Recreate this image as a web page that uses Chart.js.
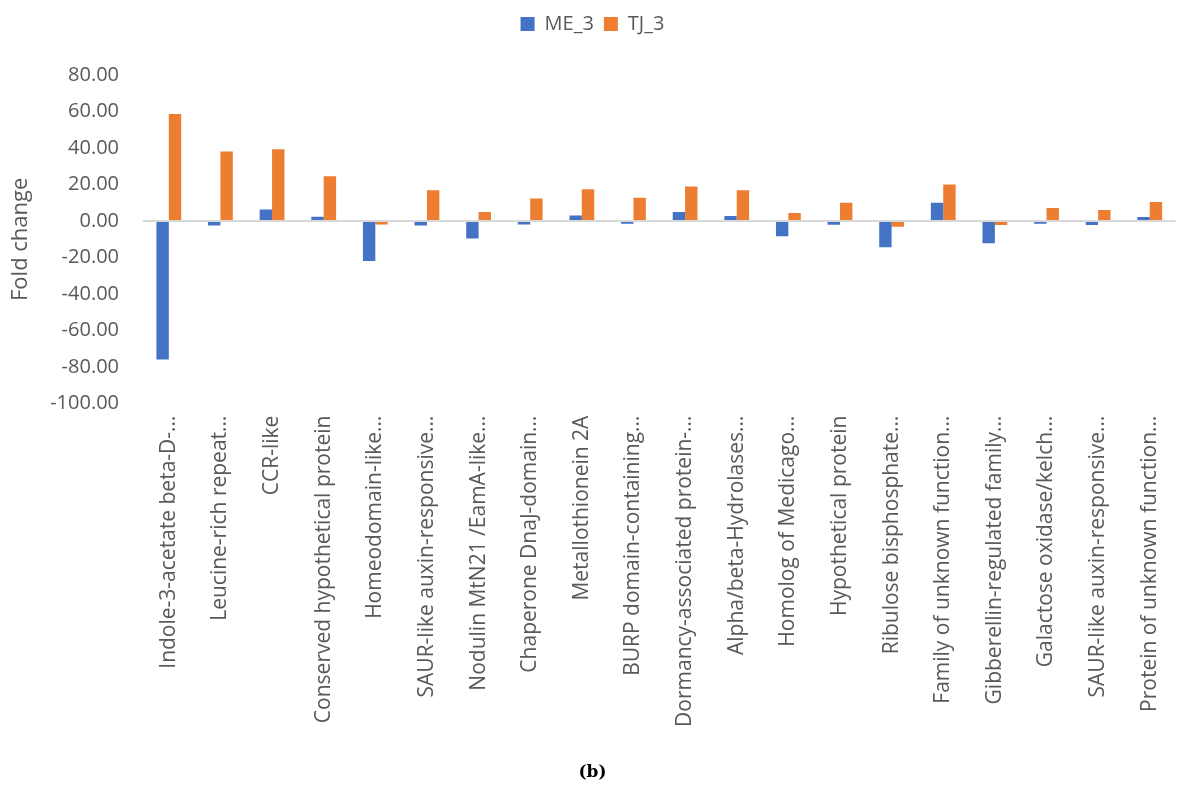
<!DOCTYPE html>
<html>
<head>
<meta charset="utf-8">
<script src="https://cdn.jsdelivr.net/npm/chart.js@4"></script>
<style>
  html, body { margin: 0; padding: 0; background: #fff; }
  #wrap { width: 1187px; height: 787px; position: relative; }
</style>
</head>
<body>
<div id="wrap"><canvas id="graph"></canvas></div>
<script>
const categories = [
    "Indole-3-acetate beta-D-…", "Leucine-rich repeat…", "CCR-like",
    "Conserved hypothetical protein", "Homeodomain-like…", "SAUR-like auxin-responsive…",
    "Nodulin MtN21 /EamA-like…", "Chaperone DnaJ-domain…", "Metallothionein 2A",
    "BURP domain-containing…", "Dormancy-associated protein-…", "Alpha/beta-Hydrolases…",
    "Homolog of Medicago…", "Hypothetical protein", "Ribulose bisphosphate…",
    "Family of unknown function…", "Gibberellin-regulated family…", "Galactose oxidase/kelch…",
    "SAUR-like auxin-responsive…", "Protein of unknown function…"
];
const me3 = [-75.9, -2.4, 6.3, 2.4, -21.9, -2.4, -9.6, -1.9, 3.0, -1.5,
             5.0, 2.8, -8.3, -2.0, -14.4, 10.0, -12.2, -1.5, -2.2, 2.2];
const tj3 = [58.7, 38.1, 39.3, 24.6, -1.9, 16.9, 5.0, 12.4, 17.4, 12.8,
             18.9, 16.9, 4.4, 10.0, -3.1, 20.0, -2.2, 7.2, 6.1, 10.4];
const yMin = -100, yMax = 80, yStep = 20;

const textColor = "#595959";
const ctx = document.getElementById("graph");

// leave some room between the legend and the plot
const legendGap = {
    id: "legendGap",
    afterInit(chart) {
        const fit = chart.legend.fit;
        chart.legend.fit = function () {
            fit.call(this);
            this.height += 31;
        };
    },
};

new Chart(ctx, {
    type: "bar",
    data: {
        labels: categories,
        datasets: [
            {
                label: "ME_3",
                data: me3,
                backgroundColor: "#4472C4",
                borderWidth: 0,
                categoryPercentage: 0.48,
                barPercentage: 1,
            },
            {
                label: "TJ_3",
                data: tj3,
                backgroundColor: "#ED7D31",
                borderWidth: 0,
                categoryPercentage: 0.48,
                barPercentage: 1,
            },
        ],
    },
    plugins: [legendGap],
    options: {
        responsive: true,
        maintainAspectRatio: false,
        animation: false,
        layout: {
            padding: { top: 4, right: 2, left: 0, bottom: 0 },
        },
        plugins: {
            legend: {
                position: "top",
                labels: {
                    color: textColor,
                    boxWidth: 14,
                    boxHeight: 14,
                    padding: 10,
                    font: { family: "Open Sans", size: 20 },
                },
            },
            title: {
                display: true,
                position: "bottom",
                text: "(b)",
                color: "#000",
                padding: { top: 0, bottom: 4 },
                font: { family: "DejaVu Serif", size: 17, weight: "bold" },
            },
            tooltip: { enabled: false },
        },
        scales: {
            x: {
                grid: { display: false, drawTicks: false },
                border: { display: false },
                ticks: {
                    color: textColor,
                    autoSkip: false,
                    minRotation: 90,
                    maxRotation: 90,
                    padding: 12,
                    font: { family: "Open Sans", size: 21 },
                },
                afterFit: (scale) => { scale.height = 359; },
            },
            y: {
                min: yMin,
                max: yMax,
                ticks: {
                    stepSize: yStep,
                    color: textColor,
                    padding: 24,
                    font: { family: "Open Sans", size: 20 },
                    callback: (v) => Number(v).toFixed(2),
                },
                grid: {
                    drawTicks: false,
                    lineWidth: 2,
                    color: (c) => (c.tick && c.tick.value === 0 ? "#D9D9D9" : "rgba(0,0,0,0)"),
                },
                border: { display: false },
                title: {
                    display: true,
                    text: "Fold change",
                    color: textColor,
                    padding: { top: 8, bottom: 0 },
                    font: { family: "Open Sans", size: 22 },
                },
                afterFit: (scale) => { scale.width = 143; },
            },
        },
    },
});
</script>
</body>
</html>
